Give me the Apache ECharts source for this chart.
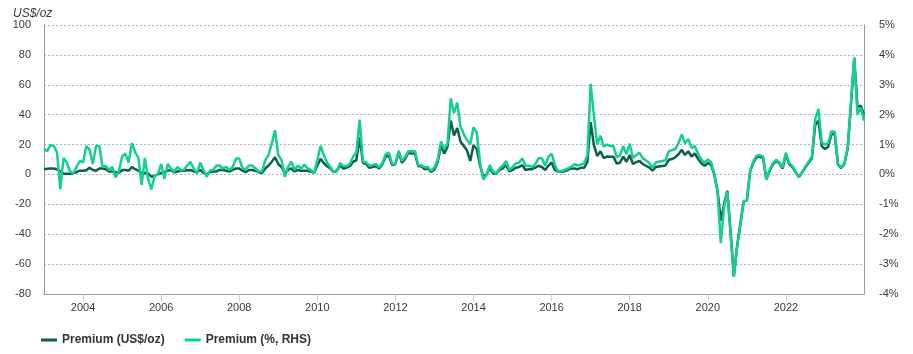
<!DOCTYPE html>
<html>
<head>
<meta charset="utf-8">
<script src="https://cdn.jsdelivr.net/npm/echarts@6.0.0/dist/echarts.min.js"></script>
<style>
html, body { margin: 0; padding: 0; background: #fff; }
#myChart { width: 913px; height: 354px; }
</style>
</head>
<body>
<div id="myChart"></div>
<script>
// monthly points, Jan 2003 .. Jan 2024
const years = [2003, 2004, 2005, 2006, 2007, 2008, 2009, 2010, 2011, 2012, 2013,
  2014, 2015, 2016, 2017, 2018, 2019, 2020, 2021, 2022, 2023]
const tickYears = ['2004', '2006', '2008', '2010', '2012', '2014', '2016', '2018', '2020', '2022']

// Premium (US$/oz)
const premiumUsd = [
  3.5, 3.8, 4, 4, 3.5, 2, 0.5, 0.5, 0.5, 1, 1.5, 2.5,
  2.5, 2.8, 4.5, 3, 2.5, 4, 4, 3.5, 2, 2, 1.5, 1,
  3, 3, 2.5, 5, 3.5, 2.5, 1, 1, 0.5, -1.5, -1, 0,
  1, 1.5, 2.5, 3, 1.5, 2, 2.5, 2.5, 2.8, 3, 2, 1.5,
  3, 1, 0, 1.5, 2, 2, 3, 3, 2.5, 2, 3, 4,
  4, 2.5, 1.5, 3, 3, 2.5, 1.5, 1, 4, 6, 8.5, 11.5,
  7, 5, 1, 3, 4, 2, 3, 2.5, 2.5, 2.5, 2, 1,
  6, 10.5, 7.5, 5.5, 4, 1.5, 2.5, 6, 4, 4.5, 5.5, 8.5,
  9.5, 25, 7.8, 7, 4.4, 5, 5.5, 4, 7, 12, 12.5, 6.2,
  7, 15, 7.8, 10.5, 14.5, 14, 14, 5.5, 5.5, 3.5, 4, 1.5,
  3.5, 8.4, 19.5, 14, 18.4, 36, 26, 31, 22, 19, 16, 9,
  19.5, 17, 6, -1.5, 0, 4.4, 0.7, 0.7, 3, 4, 6.2, 2,
  3, 4.5, 5, 6.2, 3, 3.5, 3.5, 4.5, 5.8, 5, 3, 5.8,
  8, 3, 1.8, 1.8, 2.2, 3, 4, 4, 3.5, 4.4, 4.4, 8.4,
  35, 19.5, 12.4, 15.5, 11, 12, 11.8, 11.8, 7.3, 7.8, 12, 8.5,
  13, 7, 8.2, 9, 7, 5.8, 4.8, 2.5, 5, 5.3, 5.6, 6,
  9.8, 10.3, 11.5, 13.5, 16.5, 13, 15.5, 12, 14, 10.5, 7.5, 5.8,
  7.5, 6.5, 0, -11, -31, -20, -11, -38, -68, -48, -33, -18,
  -17.5, 2, 8, 11.5, 12, 11, -3.5, 2.3, 6.8, 9, 7.5, 4,
  13.5, 7, 5, 1.4, -1.8, 1.3, 4.8, 7.8, 11, 33, 36, 19,
  17, 18.5, 27, 27, 6.5, 4.3, 7.2, 17.5, 47, 78, 45, 46,
  40
]

// Premium (%, RHS)
const premiumPct = [
  0.85, 0.78, 0.98, 0.95, 0.75, -0.5, 0.55, 0.4, 0.1, 0.04, 0.25, 0.45,
  0.4, 0.95, 0.83, 0.35, 0.95, 0.95, 0.25, 0.28, 0.15, 0.25, -0.1, 0.1,
  0.6, 0.7, 0.4, 1.05, 0.75, 0.55, -0.35, 0.55, -0.15, -0.5, -0.05, 0,
  0.35, -0.15, 0.35, 0.2, 0.1, 0.25, 0.15, 0.15, 0.3, 0.42, 0.2, 0.03,
  0.4, 0.15, -0.08, 0.13, 0.15, 0.3, 0.3, 0.2, 0.25, 0.15, 0.25, 0.53,
  0.53, 0.2, 0.18, 0.3, 0.3, 0.2, 0.1, 0.1, 0.48, 0.65, 1.03, 1.48,
  0.65, 0.48, -0.08, 0.25, 0.43, 0.15, 0.3, 0.2, 0.33, 0.2, 0.15, 0.04,
  0.48, 0.95, 0.65, 0.4, 0.25, 0.08, 0.1, 0.39, 0.28, 0.28, 0.35, 0.6,
  0.73, 1.83, 0.43, 0.4, 0.3, 0.31, 0.35, 0.24, 0.38, 0.68, 0.73, 0.35,
  0.35, 0.79, 0.45, 0.59, 0.78, 0.78, 0.78, 0.31, 0.31, 0.24, 0.25, 0.12,
  0.24, 0.5, 1.1, 0.85, 1.03, 2.55, 2.05, 2.4, 1.6, 1.35, 1.15, 1.0,
  1.58, 1.4, 0.42, -0.17, -0.02, 0.31, 0.09, 0.04, 0.2, 0.3, 0.45, 0.15,
  0.25, 0.37, 0.39, 0.54, 0.29, 0.29, 0.26, 0.34, 0.54, 0.54, 0.29, 0.59,
  0.7, 0.31, 0.09, 0.11, 0.15, 0.2, 0.25, 0.34, 0.3, 0.33, 0.37, 0.65,
  3.03, 1.98, 1.0, 1.3, 0.93, 1.0, 0.95, 0.95, 0.58, 0.63, 0.95, 0.68,
  1.03, 0.55, 0.65, 0.72, 0.55, 0.47, 0.38, 0.21, 0.4, 0.43, 0.45, 0.48,
  0.78, 0.81, 0.85, 1.05, 1.34, 1.04, 1.19, 0.89, 0.95, 0.7, 0.5, 0.39,
  0.5, 0.41, 0, -0.6, -2.3, -1.1, -0.58, -2.0, -3.43, -2.45, -1.7, -0.9,
  -0.88, 0.1, 0.44, 0.63, 0.65, 0.6, -0.18, 0.15, 0.38, 0.49, 0.4, 0.23,
  0.73, 0.39, 0.28, 0.08, -0.09, 0.08, 0.26, 0.43, 0.6, 1.85, 2.19, 1.08,
  1.0, 1.05, 1.45, 1.43, 0.35, 0.23, 0.38, 0.9, 2.4, 3.9, 2.0, 2.25,
  1.8
]

// month categories built from the year list
let months = []
for (let i = 0; i < years.length; i++) {
  for (let m = 1; m <= 12; m++) {
    months.push(years[i] + '-' + (m < 10 ? '0' + m : m))
  }
}
months.push('2024-01')

const isYearTick = function(index, value) {
  return value.slice(5) === '01' && tickYears.indexOf(value.slice(0, 4)) >= 0
}

const font = '"Liberation Sans", Arial, sans-serif'
const textColor = '#3a3a3a'

let myChart = echarts.init(document.getElementById('myChart'))
myChart.setOption({
  animation: false,
  color: ['#0b5f4c', '#14cf93'],
  textStyle: { fontFamily: font },
  title: {
    text: 'US$/oz',
    left: 8,
    top: 3,
    textStyle: { fontSize: 12, fontStyle: 'italic', fontWeight: 'normal', color: textColor, fontFamily: font }
  },
  grid: { left: 44, right: 49, top: 25, bottom: 60 },
  legend: {
    left: 36,
    top: 329,
    icon: 'rect',
    itemWidth: 16,
    itemHeight: 3,
    itemGap: 20,
    textStyle: { fontSize: 12, fontWeight: 'bold', color: '#333', fontFamily: font }
  },
  xAxis: {
    type: 'category',
    data: months,
    boundaryGap: false,
    axisLine: { onZero: false, lineStyle: { color: '#9a9a9a', width: 1 } },
    axisTick: { interval: isYearTick, length: 7, lineStyle: { color: '#c5cddb' } },
    axisLabel: {
      interval: isYearTick,
      formatter: function(value) { return value.slice(0, 4) },
      fontSize: 11,
      color: textColor,
      margin: 8
    },
    splitLine: { show: false }
  },
  yAxis: [
    {
      type: 'value',
      min: -80,
      max: 100,
      interval: 20,
      axisLine: { show: true, lineStyle: { color: '#9a9a9a' } },
      axisTick: { show: false },
      axisLabel: { fontSize: 11, color: textColor, margin: 13 },
      splitLine: { lineStyle: { color: '#b5b5b5', type: [2, 2] } }
    },
    {
      type: 'value',
      min: -4,
      max: 5,
      interval: 1,
      axisLine: { show: true, lineStyle: { color: '#9a9a9a' } },
      axisTick: { show: false },
      axisLabel: { formatter: '{value}%', fontSize: 11, color: textColor, margin: 15 },
      splitLine: { show: false }
    }
  ],
  series: [
    {
      name: 'Premium (US$/oz)',
      type: 'line',
      data: premiumUsd,
      symbol: 'none',
      lineStyle: { width: 2.5 }
    },
    {
      name: 'Premium (%, RHS)',
      type: 'line',
      yAxisIndex: 1,
      data: premiumPct,
      symbol: 'none',
      lineStyle: { width: 2.5 }
    }
  ]
})
</script>
</body>
</html>
